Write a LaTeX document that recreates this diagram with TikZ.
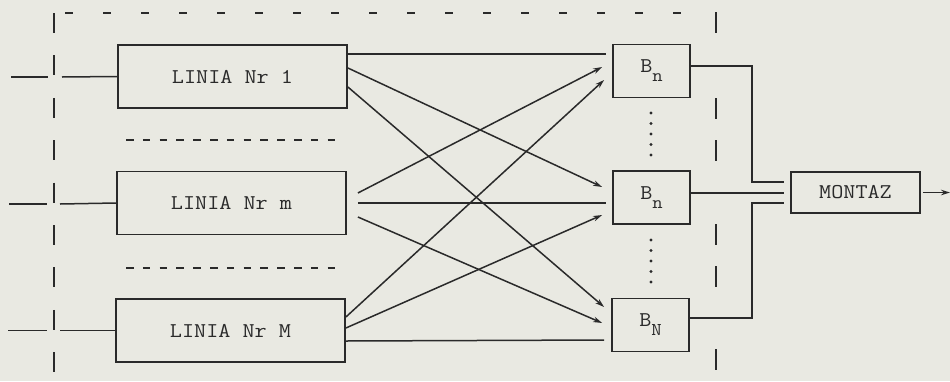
\documentclass[tikz,border=0pt]{standalone}
\usepackage{fontspec}
\setmonofont[FakeStretch=1.12]{Latin Modern Mono}
\usetikzlibrary{arrows.meta,calc}
\definecolor{paper}{HTML}{E9E9E2}
\definecolor{ink}{HTML}{2A2A2A}
% lowered index letter, set as in the typewritten original
\newcommand\lowidx[1]{\raisebox{-9pt}{\fontsize{18}{18}\selectfont #1}}

\begin{document}
\begin{tikzpicture}[x=1pt,y=-1pt,
  box/.style={draw=ink,line width=1.8pt,rectangle,inner sep=0pt,
    font=\ttfamily\fontsize{21}{23}\selectfont,text=ink},
  linebox/.style={box,minimum width=229pt,minimum height=63pt},
  bufbox/.style={box,minimum width=77pt,minimum height=53pt},
  wire/.style={draw=ink,line width=1.5pt},
  feed/.style={wire,-{Stealth[length=9pt,width=5.5pt]}},
  border/.style={draw=ink,line width=1.6pt},
  dot/.style={fill=ink,circle,inner sep=0pt,minimum size=3.4pt}
]
\useasboundingbox[fill=paper] (0,0) rectangle (950,381);

% production lines
\node[linebox] (L1) at (232.5,76.5) {LINIA Nr 1};
\node[linebox] (Lm) at (231.5,203)  {LINIA Nr m};
\node[linebox] (LM) at (230.5,330.5) {LINIA Nr M};

% buffers
\node[bufbox] (B1) at (651.5,71)  {B\lowidx{n}};
\node[bufbox] (B2) at (651.5,197.5) {B\lowidx{n}};
\node[bufbox] (B3) at (650.5,325) {B\lowidx{N}};

% assembly
\node[box,minimum width=129pt,minimum height=41pt] (MT) at (855.5,192.5) {MONTAZ};

% system boundary
\draw[border,dash pattern=on 20pt off 22.4pt] (54,13) -- (54,376);
\draw[border,dash pattern=on 8pt off 30pt] (65,13) -- (684,13);
\foreach \y in {12,98,140,224,266,349}
  \draw[border] (716,\y) -- ++(0,21);

% omitted lines between the shown ones
\draw[border,dash pattern=on 7.5pt off 9.3pt] (126,140) -- (338,140);
\draw[border,dash pattern=on 7.5pt off 9.3pt] (126,268) -- (338,268);

% omitted buffers
\foreach \y in {113,123.5,134,144.5,155} \node[dot] (d1\y) at (651,\y) {};
\foreach \y in {240,250.5,261,271.5,282} \node[dot] (d2\y) at (651,\y) {};

% inputs crossing the boundary
\coordinate (a1) at (11,77);  \coordinate (b1) at (48,77);  \coordinate (c1) at (62,77);
\coordinate (a2) at (9,204);  \coordinate (b2) at (47,204); \coordinate (c2) at (60,204);
\coordinate (a3) at (8,330.5);  \coordinate (b3) at (47,330.5); \coordinate (c3) at (60,330.5);
\draw[wire] (a1) -- (b1);  \draw[wire] (c1) -- (L1.west);
\draw[wire] (a2) -- (b2);  \draw[wire] (c2) -- (Lm.west);
\draw[wire] (a3) -- (b3);  \draw[wire] (c3) -- (LM.west);

% line 1 outputs
\draw[wire] ([yshift=22.5pt]L1.east) -- ([xshift=-6pt,yshift=17pt]B1.west);
\draw[feed] ([yshift=8.5pt]L1.east) -- ([xshift=-10pt,yshift=10.5pt]B2.west);
\draw[feed] ([yshift=-10.5pt]L1.east) -- ([xshift=-7pt,yshift=18pt]B3.west);

% line m outputs
\draw[feed] ([xshift=11pt,yshift=10pt]Lm.east) -- ([xshift=-10pt,yshift=4pt]B1.west);
\draw[wire] ([xshift=11pt]Lm.east) -- ([xshift=-6pt,yshift=-5.5pt]B2.west);
\draw[feed] ([xshift=11pt,yshift=-14pt]Lm.east) -- ([xshift=-9pt,yshift=2pt]B3.west);

% line M outputs
\draw[feed] ([yshift=13.5pt]LM.east) -- ([xshift=-8pt,yshift=-9pt]B1.west);
\draw[feed] ([yshift=2.5pt]LM.east) -- ([xshift=-10pt,yshift=-17.5pt]B2.west);
\draw[wire] ([yshift=-10.5pt]LM.east) -- ([xshift=-7pt,yshift=-15pt]B3.west);

% buffers to assembly
\coordinate (m1) at ([xshift=-6pt,yshift=10.5pt]MT.west);
\coordinate (m2) at ([xshift=-6pt,yshift=-0.5pt]MT.west);
\coordinate (m3) at ([xshift=-6pt,yshift=-10.5pt]MT.west);
\draw[wire] ([yshift=5pt]B1.east) -| ([xshift=-32pt]m1) -- (m1);
\draw[wire] ([yshift=4.5pt]B2.east) -- (m2);
\draw[wire] ([yshift=7pt]B3.east) -| ([xshift=-32pt]m3) -- (m3);

% assembly output
\coordinate (out) at (950,192.5);
\draw[feed] ([xshift=2pt]MT.east) -- (out);
\end{tikzpicture}
\end{document}
